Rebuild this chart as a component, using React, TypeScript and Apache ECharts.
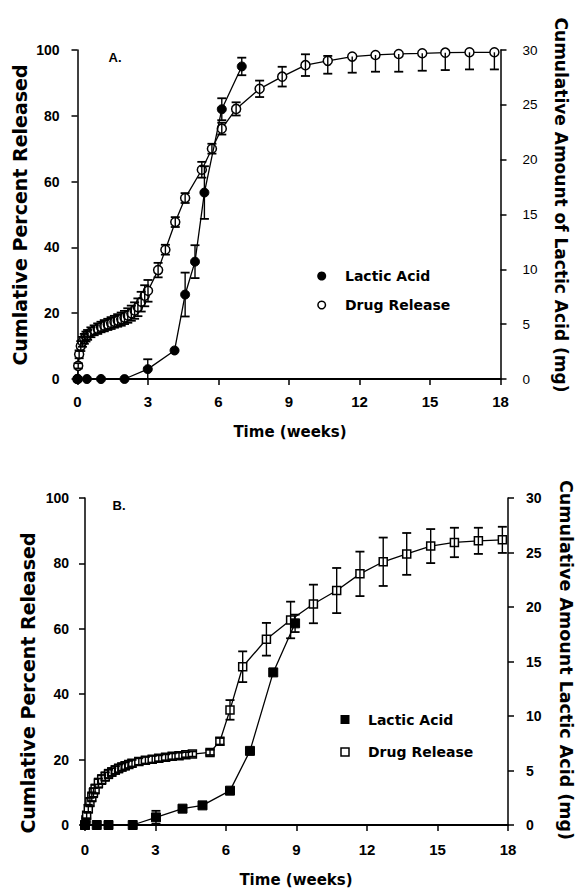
import React, { useEffect, useRef } from "react";
import * as echarts from "echarts";

// ---------- Panel A ----------
const xTickLabels = ["0", "3", "6", "9", "12", "15", "18"];

const aDrugWeeks = [0, 0.03, 0.07, 0.14, 0.21, 0.29, 0.36, 0.43, 0.57, 0.71, 0.86, 1.0, 1.14, 1.29, 1.43, 1.57, 1.71, 1.86, 2.0, 2.14, 2.29, 2.43, 2.57, 2.71, 2.86, 3.0, 3.43, 3.74, 4.16, 4.58, 5.29, 5.72, 6.14, 6.75, 7.75, 8.71, 9.7, 10.65, 11.69, 12.68, 13.67, 14.67, 15.65, 16.68, 17.74];
const aDrugPct = [0, 4, 7.5, 10, 11.3, 12.2, 12.9, 13.4, 14.2, 14.8, 15.3, 15.8, 16.2, 16.6, 17.0, 17.4, 17.8, 18.2, 18.7, 19.3, 20.0, 20.8, 21.8, 23.5, 25.3, 26.8, 33.1, 39.3, 47.7, 55.0, 63.6, 70.0, 76.1, 82.1, 88.2, 91.9, 95.4, 96.7, 98.0, 98.5, 98.8, 99.0, 99.2, 99.3, 99.3];
const aDrugErrDown = [0, 0.8, 1.2, 1.5, 1.5, 1.5, 1.5, 1.5, 1.5, 1.5, 1.6, 1.6, 1.7, 1.7, 1.8, 1.8, 1.9, 2.0, 2.0, 2.2, 2.3, 2.5, 2.7, 3.0, 3.2, 3.3, 2.2, 1.5, 1.5, 1.5, 2.4, 1.5, 1.8, 2.0, 2.5, 3.0, 3.3, 3.9, 4.9, 5.1, 5.4, 5.3, 5.3, 5.2, 5.2];
const aDrugErrUp = [0, 0.8, 1.2, 1.5, 1.5, 1.5, 1.5, 1.5, 1.5, 1.5, 1.6, 1.6, 1.7, 1.7, 1.8, 1.8, 1.9, 2.0, 2.0, 2.2, 2.3, 2.5, 2.7, 3.0, 3.2, 3.3, 2.2, 1.5, 1.5, 1.5, 2.4, 1.5, 1.8, 2.0, 2.5, 3.0, 3.3, 1.5, 0, 0, 0, 0, 0, 0, 0];

const aLacticWeeks = [0, 0.4, 1.0, 2.0, 2.99, 4.13, 4.58, 5.0, 5.4, 6.14, 6.99];
const aLacticMg = [0, 0, 0, 0, 0.9, 2.6, 7.7, 10.7, 17.0, 24.6, 28.5];
const aLacticErr = [0, 0, 0, 0, 0.9, 0, 2.0, 1.5, 2.4, 1.0, 0.8];

// ---------- Panel B ----------
const bDrugWeeks = [0, 0.04, 0.07, 0.14, 0.21, 0.29, 0.36, 0.43, 0.57, 0.71, 0.86, 1.0, 1.14, 1.29, 1.43, 1.57, 1.71, 1.86, 2.0, 2.29, 2.57, 2.86, 3.14, 3.43, 3.71, 4.0, 4.29, 4.57, 5.32, 5.74, 6.17, 6.71, 7.72, 8.75, 9.72, 10.71, 11.7, 12.69, 13.69, 14.71, 15.72, 16.74, 17.76];
const bDrugPct = [0, 1.5, 3, 5, 7, 8.6, 9.9, 11, 12.8, 13.9, 14.8, 15.6, 16.2, 16.8, 17.3, 17.7, 18.1, 18.5, 18.9, 19.4, 19.8, 20.1, 20.4, 20.7, 21.0, 21.2, 21.5, 21.7, 22.2, 25.6, 35.2, 48.4, 56.8, 62.7, 67.6, 71.7, 76.8, 80.5, 82.9, 85.3, 86.4, 86.9, 87.2];
const bDrugErr = [0, 0.5, 1, 1.2, 1.3, 1.4, 1.4, 1.4, 1.4, 1.4, 1.3, 1.3, 1.2, 1.2, 1.2, 1.1, 1.1, 1.1, 1.0, 1.0, 1.0, 1.0, 0.9, 0.9, 0.9, 0.9, 0.8, 0.8, 0.8, 1.0, 3.0, 4.7, 5.0, 5.6, 5.9, 6.9, 6.8, 7.4, 6.4, 5.2, 4.5, 4.0, 4.0];

const bLacticWeeks = [0, 0.5, 1.0, 2.03, 3.02, 4.15, 5.0, 6.17, 7.02, 8.01, 8.94];
const bLacticMg = [0, 0, 0, 0, 0.7, 1.5, 1.8, 3.15, 6.8, 14.0, 18.5];
const bLacticErr = [0, 0, 0, 0, 0.6, 0, 0, 0, 0, 0, 0.8];

const TICK_FONT = "Liberation Sans";
const TITLE_FONT = "DejaVu Sans";

function errorBars(weeks: number[], vals: number[], down: number[], up: number[], xi: number, yi: number, capW: number, z: number) {
  return {
    type: "custom",
    xAxisIndex: xi,
    yAxisIndex: yi,
    silent: true,
    clip: false,
    z,
    encode: { x: 0, y: [1, 2] },
    data: weeks.map((w, i) => [w, vals[i] - down[i], vals[i] + up[i], down[i], up[i], vals[i]]),
    renderItem: (_params: any, api: any) => {
      const x = api.value(0);
      const lo = api.value(1);
      const hi = api.value(2);
      const d = api.value(3);
      const u = api.value(4);
      const children: any[] = [];
      if (d <= 0 && u <= 0) return { type: "group", children };
      const pLo = api.coord([x, lo]);
      const pHi = api.coord([x, hi]);
      const style = { stroke: "#000", lineWidth: 1.4 };
      children.push({ type: "line", shape: { x1: pLo[0], y1: pLo[1], x2: pHi[0], y2: pHi[1] }, style });
      if (d > 0) children.push({ type: "line", shape: { x1: pLo[0] - capW / 2, y1: pLo[1], x2: pLo[0] + capW / 2, y2: pLo[1] }, style: { stroke: "#000", lineWidth: 1.8 } });
      if (u > 0) children.push({ type: "line", shape: { x1: pHi[0] - capW / 2, y1: pHi[1], x2: pHi[0] + capW / 2, y2: pHi[1] }, style: { stroke: "#000", lineWidth: 1.8 } });
      return { type: "group", children };
    },
  };
}

function pts(w: number[], v: number[]) {
  return w.map((x, i) => [x, v[i]]);
}

function xAxisCfg(gridIndex: number, margin: number) {
  return {
    gridIndex,
    type: "value",
    min: 0,
    max: 18,
    interval: 3,
    axisLine: { show: true, onZero: false, lineStyle: { color: "#000", width: 2 } },
    axisTick: { show: true, length: 6, lineStyle: { color: "#000", width: 1.5 } },
    axisLabel: {
      color: "#000",
      fontSize: 15,
      fontWeight: "bold",
      fontFamily: TICK_FONT,
      margin,
      formatter: (v: number) => xTickLabels[Math.round(v / 3)] ?? "",
    },
    splitLine: { show: false },
  };
}

function yAxisCfg(gridIndex: number, position: string, max: number, interval: number, margin: number, bold: boolean, size: number) {
  return {
    gridIndex,
    type: "value",
    position,
    min: 0,
    max,
    interval,
    axisLine: { show: true, onZero: false, lineStyle: { color: "#000", width: 1.5 } },
    axisTick: { show: true, length: 6, lineStyle: { color: "#000", width: 1.5 } },
    axisLabel: { color: "#000", fontSize: size, fontWeight: bold ? "bold" : "normal", fontFamily: TICK_FONT, margin },
    splitLine: { show: false },
  };
}

const openStyle = { color: "#fff", borderColor: "#000", borderWidth: 1.5 };
const filledStyle = { color: "#000", borderColor: "#000", borderWidth: 1 };
const lineStyle = { color: "#000", width: 1.3 };

function titleText(text: string, x: number, y: number, rotation: number, size: number) {
  return {
    type: "text",
    x,
    y,
    rotation,
    style: { text, fill: "#000", fontSize: size, fontWeight: "bold", fontFamily: TITLE_FONT, align: "center", verticalAlign: "middle" },
  };
}

function legendText(text: string, x: number, y: number) {
  return {
    type: "text",
    x,
    y,
    style: { text, fill: "#000", fontSize: 14, fontWeight: "bold", fontFamily: TITLE_FONT, align: "left", verticalAlign: "middle" },
  };
}

export default function App() {
  const ref = useRef<HTMLDivElement>(null);

  useEffect(() => {
    if (!ref.current) return;
    const chart = echarts.init(ref.current, undefined, { renderer: "svg" });
    const option: any = {
      animation: false,
      backgroundColor: "#fff",
      grid: [
        { left: 77.5, top: 50, width: 423, height: 329 },
        { left: 85, top: 498, width: 423, height: 327 },
      ],
      xAxis: [xAxisCfg(0, 15), xAxisCfg(1, 17)],
      yAxis: [
        yAxisCfg(0, "left", 100, 20, 18, true, 14),
        yAxisCfg(0, "right", 30, 5, 22, false, 13.5),
        yAxisCfg(1, "left", 100, 20, 16, true, 14),
        yAxisCfg(1, "right", 30, 5, 18, true, 14),
      ],
      series: [
        {
          name: "Drug Release",
          type: "line",
          xAxisIndex: 0,
          yAxisIndex: 0,
          data: pts(aDrugWeeks, aDrugPct),
          symbol: "circle",
          symbolSize: 9,
          clip: false,
          lineStyle,
          itemStyle: openStyle,
          z: 2,
        },
        errorBars(aDrugWeeks, aDrugPct, aDrugErrDown, aDrugErrUp, 0, 0, 9, 4),
        {
          name: "Lactic Acid",
          type: "line",
          xAxisIndex: 0,
          yAxisIndex: 1,
          data: pts(aLacticWeeks, aLacticMg),
          symbol: "circle",
          symbolSize: 9,
          clip: false,
          lineStyle,
          itemStyle: filledStyle,
          z: 3,
        },
        errorBars(aLacticWeeks, aLacticMg, aLacticErr, aLacticErr, 0, 1, 9, 4),
        {
          name: "Drug Release",
          type: "line",
          xAxisIndex: 1,
          yAxisIndex: 2,
          data: pts(bDrugWeeks, bDrugPct),
          symbol: "rect",
          symbolSize: 8,
          clip: false,
          lineStyle,
          itemStyle: openStyle,
          z: 2,
        },
        errorBars(bDrugWeeks, bDrugPct, bDrugErr, bDrugErr, 1, 2, 9, 4),
        {
          name: "Lactic Acid",
          type: "line",
          xAxisIndex: 1,
          yAxisIndex: 3,
          data: pts(bLacticWeeks, bLacticMg),
          symbol: "rect",
          symbolSize: 9,
          clip: false,
          lineStyle,
          itemStyle: filledStyle,
          z: 3,
        },
        errorBars(bLacticWeeks, bLacticMg, bLacticErr, bLacticErr, 1, 3, 9, 4),
      ],
      graphic: [
        // panel labels
        { type: "text", x: 115, y: 57, style: { text: "A.", fill: "#000", fontSize: 13, fontWeight: "bold", fontFamily: TICK_FONT, align: "center", verticalAlign: "middle" } },
        { type: "text", x: 119, y: 505, style: { text: "B.", fill: "#000", fontSize: 13, fontWeight: "bold", fontFamily: TICK_FONT, align: "center", verticalAlign: "middle" } },
        // axis titles
        titleText("Cumlative Percent Released", 20, 215, Math.PI / 2, 19),
        titleText("Cumulative Amount of Lactic Acid (mg)", 561, 205, -Math.PI / 2, 17),
        titleText("Time (weeks)", 290, 432, 0, 15),
        titleText("Cumlative Percent Released", 28, 683, Math.PI / 2, 19),
        titleText("Cumulative Amount Lactic Acid (mg)", 566, 660, -Math.PI / 2, 17.5),
        titleText("Time (weeks)", 296, 880, 0, 15),
        // legend A
        { type: "circle", shape: { cx: 321.7, cy: 276, r: 4.5 }, style: { fill: "#000" } },
        legendText("Lactic Acid", 345, 276),
        { type: "circle", shape: { cx: 321.7, cy: 305, r: 3.8 }, style: { fill: "#fff", stroke: "#000", lineWidth: 1.5 } },
        legendText("Drug Release", 345, 305),
        // legend B
        { type: "rect", shape: { x: 340.5, y: 715, width: 9, height: 9 }, style: { fill: "#000" } },
        legendText("Lactic Acid", 368, 719.5),
        { type: "rect", shape: { x: 341, y: 748, width: 8, height: 8 }, style: { fill: "#fff", stroke: "#000", lineWidth: 1.5 } },
        legendText("Drug Release", 368, 752),
      ],
    };
    chart.setOption(option);
    return () => chart.dispose();
  }, []);

  return (
    <div
      ref={ref}
      style={{ position: "fixed", left: 0, top: 0, width: 577, height: 893, background: "#fff" }}
    />
  );
}
